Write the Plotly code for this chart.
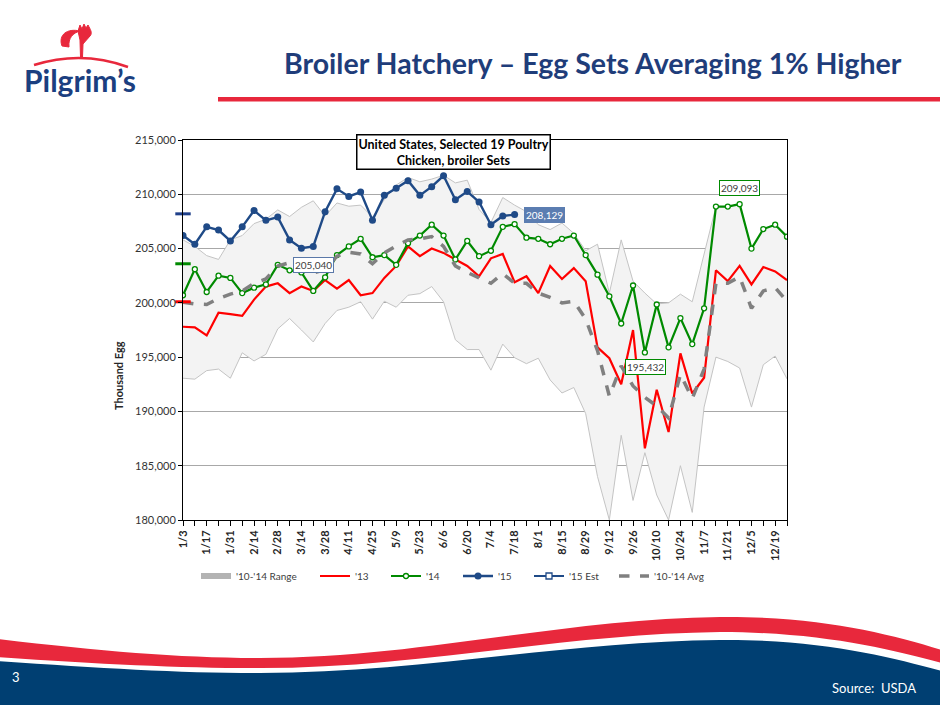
import plotly.graph_objects as go

# ---------------- data (thousand eggs) ----------------
weeks = ["1/3", "1/10", "1/17", "1/24", "1/31", "2/7", "2/14", "2/21", "2/28", "3/7",
         "3/14", "3/21", "3/28", "4/4", "4/11", "4/18", "4/25", "5/2", "5/9", "5/16",
         "5/23", "5/30", "6/6", "6/13", "6/20", "6/27", "7/4", "7/11", "7/18", "7/25",
         "8/1", "8/8", "8/15", "8/22", "8/29", "9/5", "9/12", "9/19", "9/26", "10/3",
         "10/10", "10/17", "10/24", "10/31", "11/7", "11/14", "11/21", "11/28", "12/5", "12/12",
         "12/19", "12/26"]

range_low = [193060, 192970, 193760, 193900, 193060, 195400, 194650, 195260, 197600, 198560,
             197500, 196400, 198100, 199300, 199600, 200100, 198500, 200150, 199600, 200700,
             200850, 201500, 200100, 196600, 195700, 195700, 193800, 196200, 194950, 194400,
             194900, 192900, 191700, 192200, 189800, 184000, 180000, 187800, 181800, 186200,
             182300, 180000, 185000, 180700, 190400, 195000, 194600, 194000, 190400, 194300,
             195100, 193000]

range_high = [205800, 205200, 204350, 204000, 205800, 206200, 207300, 207700, 208560, 207950,
              208800, 209400, 208000, 209200, 208900, 209000, 207900, 209500, 210850, 211550,
              211150, 211400, 211750, 211050, 211300, 208600, 207400, 209700, 209000, 208400,
              207200, 206750, 207350, 206400, 204800, 205400, 200900, 205800, 202000, 200900,
              199900, 200000, 200800, 200100, 204500, 208870, 208870, 209093, 205000, 206800,
              207200, 206100]

sets_13 = [197800, 197740, 197000, 199100, 198960, 198800, 200300, 201500, 201800, 200900,
           201500, 201100, 202100, 201300, 202100, 200700, 200900, 202300, 203400, 205200,
           204300, 205000, 204600, 204000, 203400, 202450, 204100, 204500, 201900, 202450,
           200900, 203400, 202200, 203200, 202000, 195900, 194900, 192500, 197500, 186600,
           192000, 188100, 195350, 191650, 193100, 203000, 202000, 203400, 201700, 203300,
           202900, 202100]

sets_14 = [200700, 203100, 201000, 202500, 202300, 200900, 201400, 201700, 203500, 203000,
           202800, 201100, 202350, 204400, 205200, 205900, 204200, 204400, 203500, 205500,
           206200, 207200, 206200, 204000, 205700, 204300, 204800, 207000, 207250, 206000,
           205900, 205400, 205900, 206200, 204400, 202600, 200600, 198100, 201600, 195432,
           199850, 195900, 198600, 196200, 199500, 208870, 208870, 209093, 205000, 206800,
           207200, 206100]

sets_15 = [206200, 205400, 207000, 206700, 205700, 207000, 208500, 207600, 207900, 205800,
           205040, 205200, 208400, 210500, 209800, 210200, 207600, 209900, 210550, 211250,
           209900, 210700, 211700, 209500, 210250, 209300, 207200, 208000, 208129]
sets_15 = sets_15 + [None] * (len(weeks) - len(sets_15))

avg_10_14 = [200060, 199900, 199850, 200400, 200800, 201100, 201800, 202200, 203400, 203700,
             203400, 202750, 203050, 204300, 204650, 204500, 203600, 204600, 205250, 205800,
             205900, 206100, 205200, 203400, 202800, 202300, 201800, 202700, 201800, 201800,
             200900, 200500, 200000, 200150, 198500, 195600, 191400, 194200, 192350, 191300,
             190500, 189400, 193400, 191200, 193900, 201800, 201800, 202400, 199500, 201100,
             201400, 200150]

# annual average markers on the value axis
annual_avg = {"15": 208200, "14": 203600, "13": 200100}

# labelled points (week index)
label_15_min = 10
label_15_last = 28
label_14_max = 47
label_14_min = 39

x = list(range(len(weeks)))

# ---------------- styling ----------------
RED = "#ff0000"
GREEN = "#008a00"
BLUE = "#1f4a87"
NAVY = "#1f3d7a"
BRAND_RED = "#e8283c"
FOOT_NAVY = "#003f72"
FONT = "Lato"

L, T, W, H = 183, 140, 604, 380


def px(v):
    return (v - L) / W


def py(v):
    return (T + H - v) / H


def path(segs):
    out = []
    for cmd, pts in segs:
        out.append(cmd + " ".join(f"{px(a):.5f},{py(b):.5f}" for a, b in pts))
    return " ".join(out)


fig = go.Figure()

# range band
fig.add_trace(go.Scatter(x=x, y=range_low, mode="lines", line=dict(color="#c4c4c4", width=1),
                         showlegend=False, hoverinfo="skip"))
fig.add_trace(go.Scatter(x=x, y=range_high, mode="lines", line=dict(color="#c4c4c4", width=1),
                         fill="tonexty", fillcolor="#f3f3f3", showlegend=False, hoverinfo="skip"))
# legend entry for range
fig.add_trace(go.Scatter(x=[None], y=[None], mode="none", fill="toself", fillcolor="#b3b3b3",
                         name="'10-'14 Range", legend="legend"))

fig.add_trace(go.Scatter(x=x, y=sets_13, mode="lines", name="'13",
                         line=dict(color=RED, width=2.2), legend="legend2"))
fig.add_trace(go.Scatter(x=x, y=sets_14, mode="lines+markers", name="'14",
                         line=dict(color=GREEN, width=2.2),
                         marker=dict(symbol="circle", size=5, color="white",
                                     line=dict(color=GREEN, width=1.3)), legend="legend3"))
fig.add_trace(go.Scatter(x=x, y=sets_15, mode="lines+markers", name="'15",
                         line=dict(color=BLUE, width=2.4),
                         marker=dict(symbol="circle", size=7, color=BLUE), legend="legend4"))
fig.add_trace(go.Scatter(x=[None], y=[None], mode="lines+markers", name="'15 Est",
                         line=dict(color=BLUE, width=2.2),
                         marker=dict(symbol="square", size=6, color="white",
                                     line=dict(color=BLUE, width=1.3)), legend="legend5"))
fig.add_trace(go.Scatter(x=x, y=avg_10_14, mode="lines", name="'10-'14 Avg",
                         line=dict(color="#808080", width=3.5, dash="dash"), legend="legend6"))

# annual average ticks on the value axis
for key, col in (("15", "#1f3f8a"), ("14", GREEN), ("13", RED)):
    fig.add_trace(go.Scatter(x=[0], y=[annual_avg[key]], mode="markers", showlegend=False,
                             cliponaxis=False, hoverinfo="skip",
                             marker=dict(symbol="line-ew", size=11,
                                         line=dict(color=col, width=3))))

annotations = []


def fmt(v):
    return f"{v:,.0f}"


annotations.append(dict(x=label_15_min, y=sets_15[label_15_min], xref="x", yref="y",
                        text=fmt(sets_15[label_15_min]), showarrow=False, xshift=12, yshift=-17,
                        font=dict(family=FONT, size=10, color="#404040"),
                        bgcolor="white", bordercolor="#5a78a8", borderwidth=1, borderpad=1))
annotations.append(dict(x=label_15_last, y=sets_15[label_15_last], xref="x", yref="y",
                        text=fmt(sets_15[label_15_last]), showarrow=False, xshift=30, yshift=0,
                        font=dict(family=FONT, size=10, color="white"),
                        bgcolor="#5b7db1", bordercolor="#5b7db1", borderwidth=1, borderpad=1))
annotations.append(dict(x=label_14_max, y=sets_14[label_14_max], xref="x", yref="y",
                        text=fmt(sets_14[label_14_max]), showarrow=False, xshift=0, yshift=16,
                        font=dict(family=FONT, size=10, color="#404040"),
                        bgcolor="white", bordercolor=GREEN, borderwidth=1, borderpad=1))
annotations.append(dict(x=label_14_min, y=sets_14[label_14_min], xref="x", yref="y",
                        text=fmt(sets_14[label_14_min]), showarrow=False, xshift=1, yshift=-15,
                        font=dict(family=FONT, size=10, color="#404040"),
                        bgcolor="white", bordercolor=GREEN, borderwidth=1, borderpad=1))

# chart title box
annotations.append(dict(x=px(453), y=py(152), xref="paper", yref="paper",
                        xanchor="center", yanchor="middle",
                        text="<b>United States, Selected 19 Poultry<br>Chicken, broiler Sets</b>",
                        showarrow=False, align="center",
                        font=dict(family=FONT, size=12.5, color="#000000"),
                        bgcolor="white", bordercolor="#000000", borderwidth=1.5, borderpad=1))
# y title
annotations.append(dict(x=px(118), y=py(376), xref="paper", yref="paper",
                        xanchor="center", yanchor="middle",
                        text="<b>Thousand Egg</b>", textangle=-90, showarrow=False,
                        font=dict(family=FONT, size=11, color="#262626")))
# slide title
annotations.append(dict(x=px(904), y=py(63), xref="paper", yref="paper", xanchor="right",
                        yanchor="middle",
                        text="<b>Broiler Hatchery \u2013 Egg Sets Averaging 1% Higher</b>",
                        showarrow=False, font=dict(family=FONT, size=28.5, color=NAVY)))
# logo text
annotations.append(dict(x=px(80), y=py(80), xref="paper", yref="paper", xanchor="center",
                        yanchor="middle", text="<b>Pilgrim\u2019s</b>", showarrow=False,
                        font=dict(family=FONT, size=30, color="#1b3f80")))
# footer texts
annotations.append(dict(x=px(10), y=py(677), xref="paper", yref="paper", xanchor="left",
                        yanchor="middle", text="3", showarrow=False,
                        font=dict(family=FONT, size=13, color="white")))
annotations.append(dict(x=px(918), y=py(688), xref="paper", yref="paper", xanchor="right",
                        yanchor="middle", text="Source:  USDA", showarrow=False,
                        font=dict(family=FONT, size=13, color="white")))

shapes = []
# header red rule
shapes.append(dict(type="rect", xref="paper", yref="paper", x0=px(218), x1=px(942),
                   y0=py(97), y1=py(101.5), fillcolor=BRAND_RED, line=dict(width=0), layer="above"))
# footer waves
shapes.append(dict(type="path", xref="paper", yref="paper", layer="above",
                   path=path([("M", [(-2, 639)]), ("C", [(100, 651), (180, 658), (260, 658)]),
                              ("C", [(420, 658), (560, 619), (720, 617)]),
                              ("C", [(820, 616), (890, 634), (942, 650)]),
                              ("L", [(942, 663)]),
                              ("C", [(890, 649), (820, 632), (720, 632)]),
                              ("C", [(560, 634), (420, 668), (260, 668)]),
                              ("C", [(180, 668), (100, 664), (-2, 657)]), ("Z", [])]),
                   fillcolor=BRAND_RED, line=dict(width=0)))
shapes.append(dict(type="path", xref="paper", yref="paper", layer="above",
                   path=path([("M", [(-2, 661)]), ("C", [(100, 668), (180, 673), (260, 673)]),
                              ("C", [(420, 673), (560, 642), (720, 640)]),
                              ("C", [(820, 639), (890, 657), (942, 671)]),
                              ("L", [(942, 707)]), ("L", [(-2, 707)]), ("Z", [])]),
                   fillcolor=FOOT_NAVY, line=dict(width=0)))
# logo arc and rooster
shapes.append(dict(type="path", xref="paper", yref="paper", layer="above",
                   path=path([("M", [(34, 65)]), ("Q", [(82, 50), (128, 67)])]),
                   line=dict(color=BRAND_RED, width=2.5)))
shapes.append(dict(type="path", xref="paper", yref="paper", layer="above",
                   path=path([("M", [(62, 46)]), ("C", [(58, 35), (67, 28), (80, 31)]),
                              ("C", [(73, 33), (68, 38), (69, 47)]), ("Z", [])]),
                   fillcolor=BRAND_RED, line=dict(color=BRAND_RED, width=1)))
shapes.append(dict(type="path", xref="paper", yref="paper", layer="above",
                   path=path([("M", [(78, 31)]), ("L", [(80, 25)]), ("L", [(82, 29)]),
                              ("L", [(84, 24)]), ("L", [(86, 28)]), ("L", [(88, 25)]),
                              ("C", [(90, 29), (93, 33), (90, 36)]),
                              ("C", [(88, 39), (85, 41), (83, 44)]),
                              ("L", [(82.5, 57)]), ("L", [(80.5, 57)]), ("L", [(80, 40)]), ("Z", [])]),
                   fillcolor=BRAND_RED, line=dict(color=BRAND_RED, width=1)))

legend_style = dict(orientation="h", xanchor="left", y=py(576), yanchor="middle",
                    font=dict(family=FONT, size=10, color="#404040"),
                    itemwidth=30, bgcolor="rgba(0,0,0,0)")
legend_starts = {"legend": 196, "legend2": 315, "legend3": 386, "legend4": 458,
                 "legend5": 529, "legend6": 614}

fig.update_layout(
    width=940, height=705,
    margin=dict(l=L, r=940 - L - W, t=T, b=705 - T - H, pad=0),
    paper_bgcolor="white", plot_bgcolor="white",
    font=dict(family=FONT, color="#262626"),
    showlegend=True,
    annotations=annotations,
    shapes=shapes,
)
for key, start in legend_starts.items():
    fig.update_layout({key: dict(legend_style, x=px(start))})

fig.update_xaxes(range=[0, len(weeks) - 1], tickmode="array", tickvals=x,
                 ticktext=[w if i % 2 == 0 else "" for i, w in enumerate(weeks)],
                 tickangle=-90, ticks="outside", ticklen=5, tickcolor="#000000",
                 showline=True, linecolor="#000000", linewidth=1, mirror=True,
                 showgrid=False, zeroline=False,
                 tickfont=dict(family=FONT, size=11, color="#262626", weight="bold"))
fig.update_yaxes(range=[180000, 215000], dtick=5000, tickformat=",d",
                 ticks="outside", ticklen=4, tickcolor="#000000",
                 showline=True, linecolor="#000000", linewidth=1, mirror=True,
                 showgrid=True, gridcolor="#a8a8a8", gridwidth=1, zeroline=False,
                 tickfont=dict(family=FONT, size=11, color="#333333"))

fig.write_html("out.html", config={"displayModeBar": False},
               post_script="document.body.style.margin='0';")
